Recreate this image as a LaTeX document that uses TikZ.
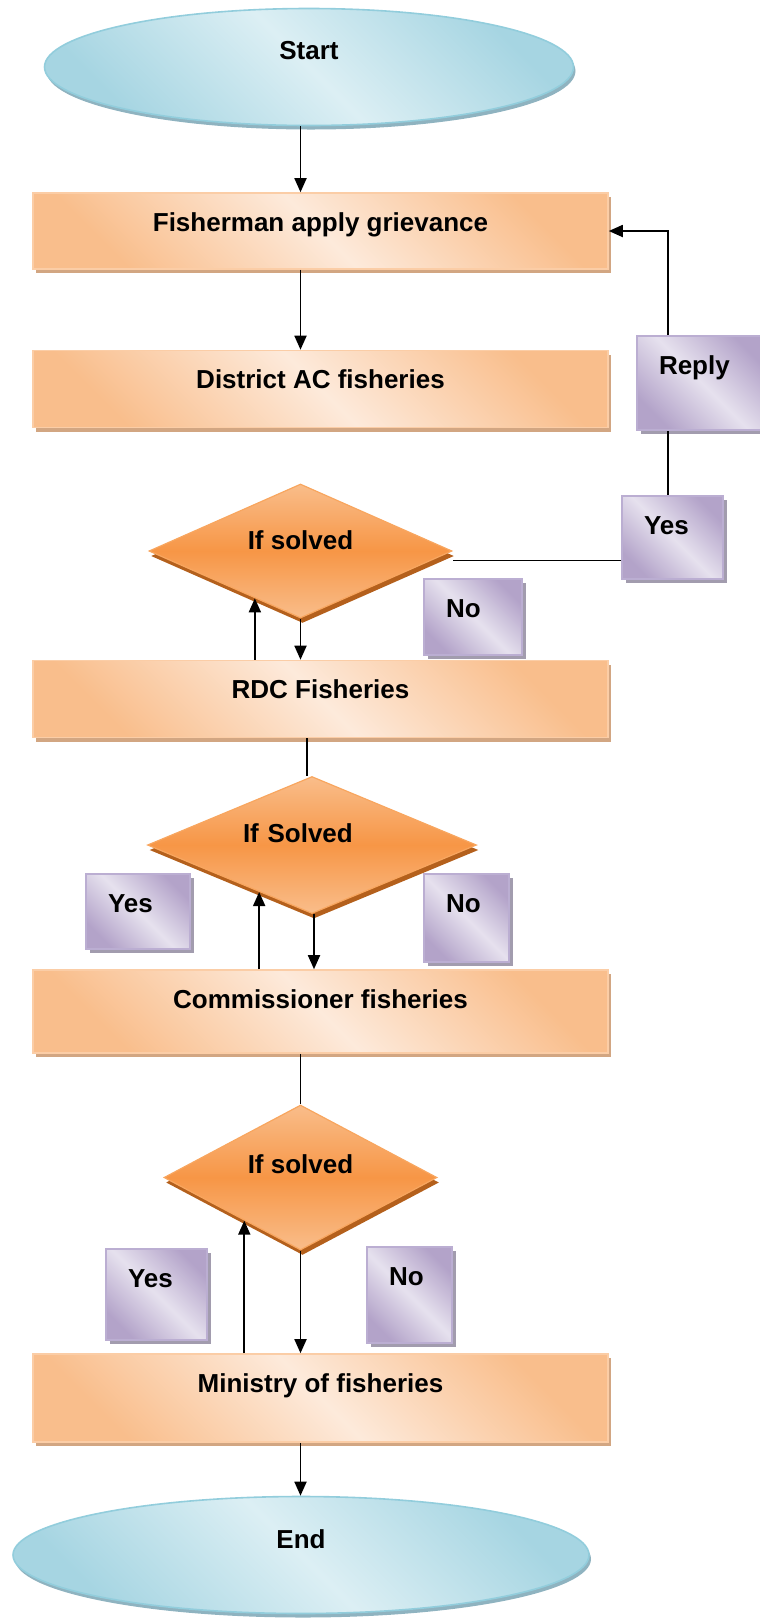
\documentclass[tikz,border=0pt]{standalone}
\usepackage{fontspec}
\setmainfont{Liberation Sans}
\usetikzlibrary{arrows}
\usetikzlibrary{positioning}
\usetikzlibrary{calc}
\usetikzlibrary{shapes.geometric}
\usetikzlibrary{arrows.meta}
\usetikzlibrary{shadows}

\definecolor{skylight}{HTML}{DCEFF4}
\definecolor{skydark}{HTML}{A6D5E2}
\definecolor{skyrim}{HTML}{92CDDC}
\definecolor{skyshade}{HTML}{8FB3C0}
\definecolor{peachlight}{HTML}{FDEADB}
\definecolor{peachdark}{HTML}{F9BE8C}
\definecolor{peachrim}{HTML}{FBCDA6}
\definecolor{peachshade}{HTML}{D2A682}
\definecolor{tanlight}{HTML}{F9BD8A}
\definecolor{tangerine}{HTML}{F79646}
\definecolor{tanrim}{HTML}{F8A65F}
\definecolor{rust}{HTML}{B4601C}
\definecolor{lavlight}{HTML}{E6E1EE}
\definecolor{lavdark}{HTML}{B3A3C9}
\definecolor{lavrim}{HTML}{BBAED2}
\definecolor{lavshade}{HTML}{A29CAE}

\begin{document}
\begin{tikzpicture}[->,>={Triangle[length=14pt,width=12pt]},x=1pt,y=-1pt,line width=1.8pt]
	\tikzset{terminal/.style = {shape=ellipse, draw=skyrim, line width=1.6pt, left color=skydark, right color=skydark, middle color=skylight, shading angle=135, inner sep=0pt, minimum width=529pt, minimum height=117pt, text height=19pt, font=\fontsize{26}{30}\selectfont\bfseries, drop shadow={shadow xshift=2pt, shadow yshift=-4pt, fill=skyshade, opacity=1}}}
	\tikzset{procbox/.style = {shape=rectangle, draw=peachrim, line width=1.6pt, left color=peachdark, right color=peachdark, middle color=peachlight, shading angle=135, inner sep=0pt, minimum width=575pt, text height=19pt, font=\fontsize{26}{30}\selectfont\bfseries, drop shadow={shadow xshift=3pt, shadow yshift=-4pt, fill=peachshade, opacity=1}}}
	\tikzset{decision/.style = {shape=diamond, draw=tanrim, line width=1.2pt, top color=tanlight, bottom color=tanlight, middle color=tangerine, inner sep=0pt, text height=19pt, font=\fontsize{26}{30}\selectfont\bfseries, drop shadow={shadow xshift=2pt, shadow yshift=-5pt, fill=rust, opacity=1}}}
	\tikzset{labelbox/.style = {shape=rectangle, anchor=north west, draw=lavrim, line width=2pt, left color=lavdark, right color=lavdark, middle color=lavlight, shading angle=135, inner xsep=22pt, inner ysep=0pt, align=left, text height=19pt, font=\fontsize{26}{30}\selectfont\bfseries, drop shadow={shadow xshift=4pt, shadow yshift=-4pt, fill=lavshade, opacity=1}}}
	\useasboundingbox (0,0) rectangle (760,1618);
	
	\node[terminal, text depth=34pt] (start) at (309,67) {Start};
	\node[procbox, minimum height=76pt, text depth=19pt] (box1) at (320.5,231) {Fisherman apply grievance};
	\node[procbox, minimum height=77pt, text depth=20pt] (box2) at (320.5,389) {District AC fisheries};
	\node[labelbox, text width=86pt, minimum height=94pt, text depth=37pt] (reply) at (636,335) {Reply};
	\node[labelbox, text width=57pt, minimum height=83pt, text depth=26pt] (yes1) at (621,495) {Yes};
	\node[decision, minimum width=303pt, minimum height=134pt, shape aspect=2.26, text depth=22pt] (d1) at (300.5,551) {If solved};
	\node[labelbox, text width=54pt, minimum height=76pt, text depth=19pt] (no1) at (423,578) {No};
	\node[procbox, minimum height=77pt, text depth=20pt] (rdc) at (320.5,699) {RDC Fisheries};
	\node[decision, minimum width=329pt, minimum height=137pt, shape aspect=2.4, text width=138pt, align=left, text depth=25pt] (d2) at (312,845) {If Solved};
	\node[labelbox, text width=60pt, minimum height=75pt, text depth=18pt] (yes2) at (85,873) {Yes};
	\node[labelbox, text width=41pt, minimum height=88pt, text depth=31pt] (no2) at (423,873) {No};
	\node[procbox, minimum height=83pt, text depth=26pt] (comm) at (320.5,1011.5) {Commissioner fisheries};
	\node[decision, minimum width=273pt, minimum height=145pt, shape aspect=1.88, text depth=27pt] (d3) at (300.5,1177.5) {If solved};
	\node[labelbox, text width=57pt, minimum height=91pt, text depth=34pt] (yes3) at (105,1248) {Yes};
	\node[labelbox, text width=41pt, minimum height=96pt, text depth=39pt] (no3) at (366,1246) {No};
	\node[procbox, minimum height=88pt, text depth=30pt] (ministry) at (320.5,1398) {Ministry of fisheries};
	\node[terminal, minimum width=576pt, text depth=32pt] (finish) at (301,1555) {End};
	
	% where the Yes arrows meet the diamonds
	\coordinate (up1) at ($(d1.south)!0.3!(d1.west)$);
	\coordinate (up2) at ($(d2.south)!0.32!(d2.west)$);
	\coordinate (up3) at ($(d3.south)!0.41!(d3.west)$);
	
	\draw (start.south -| d1.north) -- (box1.north -| d1.north);
	\draw (box1.south -| d1.north) -- (box2.north -| d1.north);
	\draw ([xshift=32pt]reply.north west) |- (box1.east);
	\draw[-] ([xshift=32pt]reply.south west) -- ([xshift=32pt]reply.south west |- yes1.north);
	\draw[-] ([yshift=-23pt]yes1.west) -- ([yshift=-23pt]yes1.west -| d1.east);
	\draw (d1.south) -- (rdc.north -| d1.south);
	\draw (rdc.north -| up1) -- (up1);
	\draw[-] ([xshift=-5pt]rdc.south -| d2.north) -- ([xshift=-5pt]d2.north);
	\draw ([xshift=2pt]d2.south) -- ([xshift=2pt]comm.north -| d2.south);
	\draw (comm.north -| up2) -- (up2);
	\draw[-] (comm.south -| d3.north) -- (d3.north);
	\draw (d3.south) -- (ministry.north -| d3.south);
	\draw (ministry.north -| up3) -- (up3);
	\draw (ministry.south -| d3.south) -- (finish.north -| d3.south);
\end{tikzpicture}
\end{document}
